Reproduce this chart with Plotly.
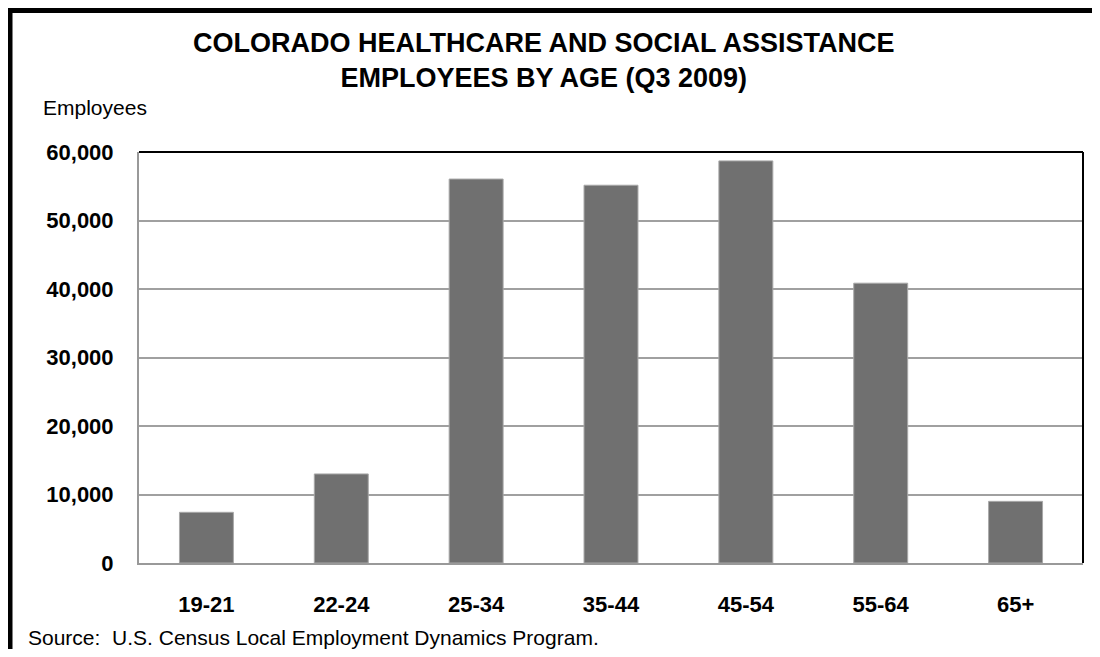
import plotly.graph_objects as go

age_groups = ["19-21", "22-24", "25-34", "35-44", "45-54", "55-64", "65+"]
employees = [7400, 13000, 56050, 55150, 58700, 40850, 9000]
y_ticks = [0, 10000, 20000, 30000, 40000, 50000, 60000]

SANS = "Liberation Sans, Arial"

# page body has an 8px margin, so the figure is sized to the window minus that
W, H = 1084, 641
PL, PT, PW, PH = 131, 144, 944, 411   # plot area in figure pixels


def px_x(x):
    return (x - PL) / PW


def px_y(y):
    return 1 - (y - PT) / PH


fig = go.Figure(go.Bar(
    x=age_groups, y=employees,
    marker=dict(color="#707070", line=dict(color="#a8a8a8", width=1)),
    width=0.4,
))

fig.update_layout(
    width=W, height=H,
    paper_bgcolor="white", plot_bgcolor="white",
    margin=dict(l=PL, r=W - PL - PW, t=PT, b=H - PT - PH),
    showlegend=False,
    xaxis=dict(
        showgrid=False, showline=True, linecolor="#999999", linewidth=2,
        ticks="", ticklabelstandoff=21,
        tickfont=dict(family=SANS, size=22, color="black", weight="bold"),
    ),
    yaxis=dict(
        range=[0, 60000], tickvals=y_ticks, tickformat=",d",
        showgrid=True, gridcolor="#a0a0a0", gridwidth=2,
        showline=True, linecolor="#999999", linewidth=2,
        ticks="", ticklabelstandoff=19,
        tickfont=dict(family=SANS, size=22, color="black", weight="bold"),
        zeroline=False,
    ),
    annotations=[
        dict(text="<b>COLORADO HEALTHCARE AND SOCIAL ASSISTANCE<br>EMPLOYEES BY AGE (Q3 2009)</b>",
             xref="paper", yref="paper", x=px_x(536), y=px_y(53),
             xanchor="center", yanchor="middle", showarrow=False,
             font=dict(family=SANS, size=27, color="black")),
        dict(text="Employees", xref="paper", yref="paper",
             x=px_x(33), y=px_y(99),
             xanchor="left", yanchor="middle", showarrow=False,
             font=dict(family=SANS, size=21, color="black")),
        dict(text="Source:  U.S. Census Local Employment Dynamics Program.",
             xref="paper", yref="paper",
             x=px_x(18), y=px_y(629),
             xanchor="left", yanchor="middle", showarrow=False,
             font=dict(family=SANS, size=21, color="black")),
    ],
    shapes=[
        # dark top and right edges of the plot frame
        dict(type="line", xref="paper", yref="paper", x0=0, x1=1, y0=1, y1=1,
             line=dict(color="black", width=2)),
        dict(type="line", xref="paper", yref="paper", x0=1, x1=1, y0=0, y1=1,
             line=dict(color="black", width=2)),
        # outer frame, only left and top edges fall inside the picture
        dict(type="line", xref="paper", yref="paper",
             x0=px_x(2), x1=px_x(2), y0=px_y(H + 10), y1=px_y(2.5),
             line=dict(color="black", width=5)),
        dict(type="line", xref="paper", yref="paper",
             x0=px_x(0), x1=px_x(W + 10), y0=px_y(2.5), y1=px_y(2.5),
             line=dict(color="black", width=5)),
    ],
)

fig.write_html("out.html")
